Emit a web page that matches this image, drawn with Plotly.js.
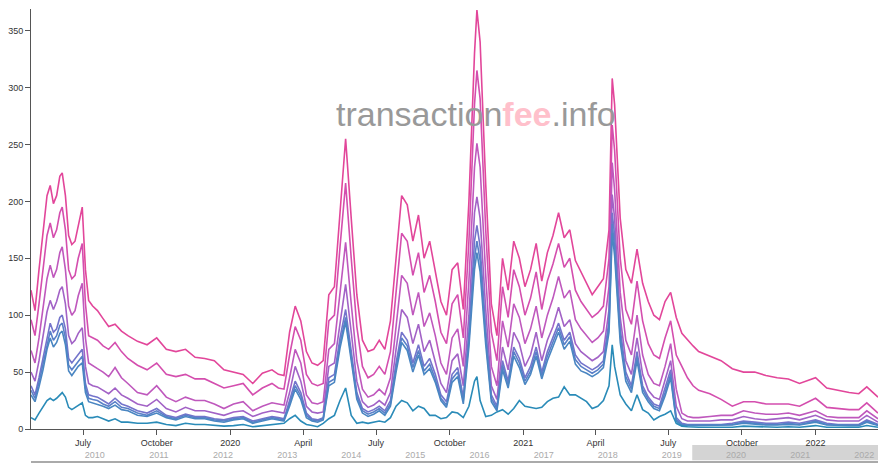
<!DOCTYPE html>
<html><head><meta charset="utf-8">
<script src="https://cdn.plot.ly/plotly-3.0.1.min.js"></script>
<style>html,body{margin:0;padding:0;background:#fff}#chart{width:890px;height:470px}</style>
</head><body><div id="chart"></div>
<script>
const dates = ['2019-04-27','2019-05-02','2019-05-07','2019-05-12','2019-05-17','2019-05-21','2019-05-25','2019-05-29','2019-06-02','2019-06-05','2019-06-09','2019-06-13','2019-06-17','2019-06-21','2019-06-25','2019-06-30','2019-07-04','2019-07-08','2019-07-13','2019-07-19','2019-07-26','2019-08-02','2019-08-10','2019-08-18',
'2019-08-26','2019-09-07','2019-09-19','2019-10-01','2019-10-13','2019-10-25','2019-11-06','2019-11-18','2019-11-30','2019-12-12','2019-12-24','2020-01-05','2020-01-17','2020-01-29','2020-02-10','2020-02-22',
'2020-03-01','2020-03-08','2020-03-15','2020-03-22','2020-03-29','2020-04-05','2020-04-12','2020-04-19','2020-04-26','2020-05-03','2020-05-10','2020-05-17','2020-05-24','2020-05-31','2020-06-07','2020-06-14','2020-06-21','2020-06-28','2020-07-05','2020-07-12','2020-07-19','2020-07-26','2020-08-02','2020-08-09','2020-08-16','2020-08-23','2020-08-30','2020-09-06','2020-09-13','2020-09-20','2020-09-27','2020-10-04','2020-10-11','2020-10-18','2020-10-25','2020-11-01','2020-11-04','2020-11-08','2020-11-15','2020-11-22','2020-11-29','2020-12-06','2020-12-13','2020-12-20','2020-12-27','2021-01-03','2021-01-10','2021-01-17','2021-01-24','2021-01-31','2021-02-07','2021-02-14','2021-02-21','2021-02-28','2021-03-07','2021-03-14','2021-03-21','2021-03-28','2021-04-04','2021-04-11','2021-04-18','2021-04-22','2021-04-25','2021-05-02','2021-05-09','2021-05-16','2021-05-23','2021-05-30','2021-06-06','2021-06-13','2021-06-20','2021-06-27','2021-07-04','2021-07-11','2021-07-18','2021-07-25','2021-08-01','2021-08-08',
'2021-08-22','2021-09-05','2021-09-19','2021-10-03','2021-10-17','2021-10-31','2021-11-14','2021-11-28','2021-12-12','2022-01-01','2022-01-15','2022-01-29','2022-02-12','2022-02-24','2022-03-06','2022-03-20'];

const s1 = [122,104,140,175,205,214,198,205,222,225,205,170,162,165,178,195,140,113,108,104,97,90,92,86,
82,77,74,80,70,68,70,63,62,60,52,50,48,40,49,52,
48,47,85,108,95,68,58,56,60,118,125,190,255,185,118,78,68,70,78,70,95,150,205,197,165,188,150,165,140,112,100,140,146,105,200,330,368,340,215,110,82,150,122,165,150,125,140,163,130,155,170,190,168,175,148,138,128,118,125,132,175,308,285,185,140,128,158,128,112,100,96,112,120,98,84,78,73,68,
64,60,53,50,50,47,45,44,40,45,36,34,32,31,37,28];
const s2 = [96,82,110,140,170,181,168,175,190,195,175,140,132,135,150,163,110,82,80,78,73,70,76,68,
62,56,52,58,48,46,48,44,44,40,36,38,40,30,36,40,
36,35,65,90,78,48,40,38,40,95,100,160,216,150,90,55,45,48,55,48,68,120,172,165,135,155,120,135,112,85,75,110,118,80,165,285,315,290,175,85,60,125,98,140,125,100,115,138,105,130,145,163,142,150,122,112,105,98,102,108,150,267,245,150,105,92,130,95,75,65,62,80,95,65,55,45,38,34,
31,26,20,24,24,22,22,22,20,27,19,18,17,17,23,14];
const s3 = [69,58,80,105,132,144,133,140,155,160,140,108,100,104,117,128,80,58,56,53,50,46,54,45,
40,32,30,38,28,24,28,25,25,22,18,22,24,16,20,23,
22,21,45,70,58,30,23,22,24,70,75,120,164,110,60,35,28,30,35,30,45,90,135,128,100,120,90,102,82,58,48,80,88,55,130,230,251,230,135,55,38,95,72,110,98,75,88,108,80,100,115,134,115,122,96,88,82,76,80,86,125,234,210,120,78,65,100,65,48,40,38,55,75,35,14,11,10,10,
11,12,12,16,14,13,13,14,12,16,11,10,10,10,16,9];
const s4 = [50,42,60,80,103,113,105,112,122,125,110,82,75,78,84,89,55,40,38,37,34,31,36,30,
27,22,20,26,18,15,19,16,16,14,12,15,16,11,14,16,
15,14,32,55,42,20,15,14,15,55,58,95,127,85,42,24,19,21,25,21,32,70,105,98,75,92,68,78,60,40,32,60,66,38,100,190,204,185,105,38,26,72,52,85,75,55,65,85,60,78,90,107,90,96,75,68,64,60,63,68,105,206,185,98,60,48,80,48,34,28,26,42,60,20,9,7,7,7,
7,8,8,11,9,8,9,10,8,12,8,7,7,7,12,6];
const s5 = [38,30,45,62,82,93,85,88,98,100,88,62,58,62,66,70,40,30,29,28,25,22,27,22,
20,16,14,18,12,10,13,11,11,9,8,10,11,7,9,11,
10,9,25,42,32,14,9,8,10,45,48,80,105,70,32,18,15,17,20,16,25,58,85,78,58,74,55,62,48,30,24,48,54,28,85,165,179,160,88,30,20,60,42,72,62,45,55,72,50,68,80,93,78,85,65,58,55,52,55,60,95,190,170,88,50,38,68,38,28,22,20,35,52,10,5,4,4,4,
4,4,5,7,6,5,5,6,5,8,5,4,4,4,8,4];
const s6 = [34,27,41,57,76,86,78,82,91,93,80,56,52,56,60,64,36,27,26,25,22,20,24,19,
18,14,12,16,11,9,12,10,10,8,7,9,10,6,8,10,
9,8,22,38,29,12,8,7,9,41,44,75,98,65,29,16,13,15,18,14,22,54,80,73,54,69,51,57,44,27,21,44,50,25,78,150,165,148,80,27,18,56,39,68,58,42,51,68,47,64,76,89,74,81,61,55,52,49,52,57,90,180,160,82,46,35,64,35,26,20,18,32,48,8,4,3.5,3.5,3.5,
3.5,3.5,4,6,5,4,4,5,4,7,4,3.5,3.5,3.5,7,3.5];
const s7 = [30,24,37,52,70,80,72,76,84,86,74,51,47,51,55,58,32,24,23,22,20,18,21,17,
16,12,11,14,10,8,11,9,9,7,6,8,9,5,7,9,
8,7,20,35,26,10,7,6,8,38,41,71,94,61,26,14,11,13,16,12,20,50,76,69,50,65,48,53,41,25,19,41,46,22,72,140,155,138,74,24,16,52,36,64,54,39,48,64,44,60,72,85,70,77,57,51,49,46,49,54,85,172,152,76,42,32,60,32,24,18,16,29,45,7,3,3,3,3,
3,3,3.5,5,4,3.5,3.5,4,3.5,6,3.5,3,3,3,6,3];
const s8 = [10,8,14,20,25,27,25,27,30,32,28,19,17,19,21,23,12,10,10,11,9,7,9,6,
6,5,5,6,4,3,5,4,4,3,2.5,3,4,2,3,4,
5,5,9,12,7,4,3,2,5,9,12,25,36,12,5,6,5,6,7,6,10,20,25,23,16,20,18,12,12,9,10,15,14,10,20,42,46,25,11,12,15,17,13,18,25,20,19,18,19,24,27,28,37,30,30,27,24,18,20,25,38,74,55,30,22,16,30,17,14,8,11,13,16,5,2.5,2,1.5,1.5,
1.5,1.5,1.5,2.5,2,1.5,1.5,2,1.5,3,1.5,1.5,1.5,1.5,3,1.5];

const seriesNames = ['series 1','series 2','series 3','series 4','series 5','series 6','series 7','series 8'];
const seriesColors = ['#e2469a','#d44eae','#bf58bd','#a262c6','#7474cb','#5a80c8','#4a86c2','#2a8bb8'];
const monthTickVals = ['2019-07-01','2019-10-01','2020-01-01','2020-04-01','2020-07-01','2020-10-01','2021-01-01','2021-04-01','2021-07-01','2021-10-01','2022-01-01'];
const monthTickText = ['July','October','2020','April','July','October','2021','April','July','October','2022'];
const sliderStart = '2009-01-03';

const series = [s1,s2,s3,s4,s5,s6,s7,s8];
const traces = series.map((ys,i)=>({type:'scatter',mode:'lines',x:dates,y:ys,name:seriesNames[i],
  line:{color:seriesColors[i],width:1.6},hoverinfo:'skip'}));
traces.push({type:'scatter',mode:'lines',x:dates,y:s1,xaxis:'x2',yaxis:'y2',line:{width:0,color:'rgba(0,0,0,0)'},opacity:0,showlegend:false,hoverinfo:'skip'});

const first = dates[0], last = dates[dates.length-1];
const FONT = 'Liberation Sans, Arial, sans-serif';
const layout = {
  width:890, height:470,
  margin:{l:31,r:12,t:9,b:9},
  paper_bgcolor:'#fff', plot_bgcolor:'rgba(0,0,0,0)',
  showlegend:false,
  font:{family:FONT,size:9,color:'#333'},
  xaxis:{type:'date',range:[first,last],anchor:'y',tickmode:'array',tickvals:monthTickVals,ticktext:monthTickText,
    ticks:'outside',ticklen:5,tickcolor:'#555',showline:true,linecolor:'#555',linewidth:1,showgrid:false,zeroline:false,
    tickfont:{family:FONT,size:9,color:'#333'},automargin:false,fixedrange:true},
  yaxis:{domain:[0.0708,1],range:[0,369],anchor:'x',dtick:50,tick0:0,ticks:'outside',ticklen:5,tickcolor:'#555',
    showline:true,linecolor:'#555',linewidth:1,showgrid:false,zeroline:false,tickfont:{family:FONT,size:9,color:'#333'},automargin:false,fixedrange:true},
  xaxis2:{type:'date',anchor:'y2',range:[sliderStart,last],dtick:'M12',tick0:'2009-01-01',tickformat:'%Y',
    ticklabelposition:'inside',ticks:'',showline:true,linecolor:'#aaa',linewidth:1.5,showgrid:false,zeroline:false,
    tickfont:{family:FONT,size:9,color:'#aaa'},automargin:false,fixedrange:true},
  yaxis2:{domain:[0,0.0354],anchor:'x2',range:[0,1],visible:false,fixedrange:true},
  shapes:[{type:'rect',xref:'x2',yref:'y2 domain',x0:first,x1:last,y0:0.05,y1:1,fillcolor:'#d4d4d4',line:{width:0},layer:'below'}],
  annotations:[{xref:'x domain',yref:'y domain',x:0.525,y:0.80,showarrow:false,
    text:'transaction<span style="color:#ffc0cb;font-weight:bold">fee</span>.info',
    font:{family:FONT,size:34,color:'#999'}}]
};
Plotly.newPlot('chart',traces,layout,{staticPlot:true,displayModeBar:false});
</script></body></html>
